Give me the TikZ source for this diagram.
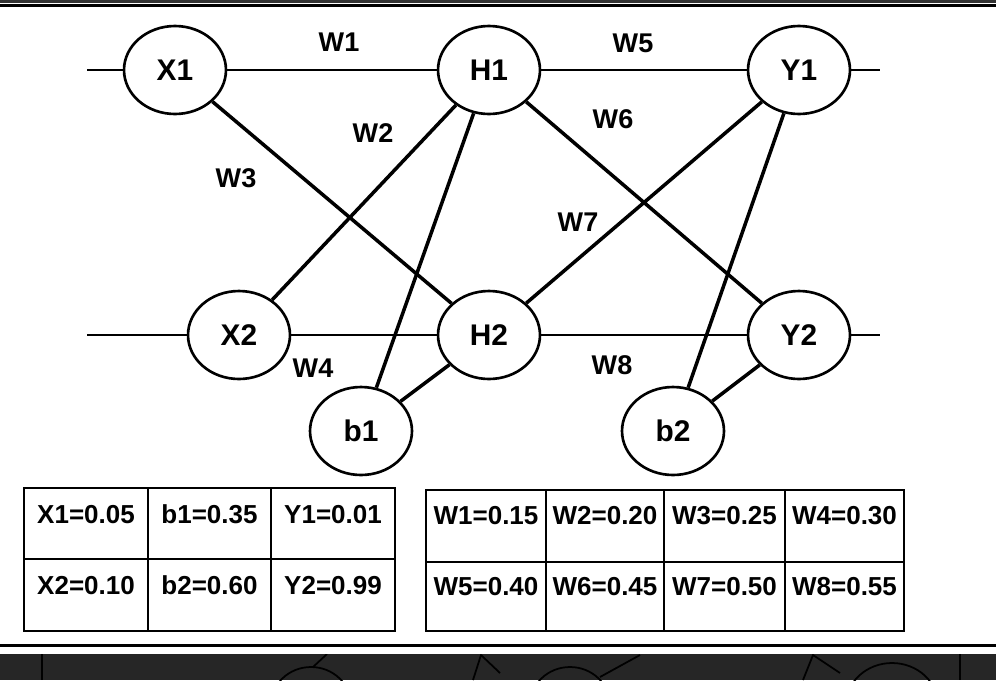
\documentclass[tikz,border=0pt]{standalone}
\usepackage{fontspec}
\setmainfont{Liberation Sans}
\usetikzlibrary{positioning,calc,shapes.geometric}
\definecolor{StripGray}{RGB}{38,38,38}
\definecolor{TopGray}{RGB}{50,50,50}
\tikzset{
	unit/.style={ellipse,draw=black,fill=white,line width=1.5pt,inner sep=0pt,
		minimum width=2.04cm,minimum height=1.76cm,font=\bfseries\fontsize{17}{20}\selectfont},
	wire/.style={draw=black,line width=2pt},
	flat/.style={draw=black,line width=1.6pt},
	wlab/.style={font=\bfseries\fontsize{15.4}{18}\selectfont,inner sep=0pt},
	cell/.style={font=\bfseries\fontsize{14.8}{18}\selectfont,inner sep=0pt,anchor=base},
	grid/.style={draw=black,line width=1.1pt},
}

\begin{document}
\begin{tikzpicture}[x=0.02cm,y=-0.02cm]
	\useasboundingbox (0,0) rectangle (996,680);
	\fill[TopGray] (0,0) rectangle (996,3);
	\fill[black] (0,4) rectangle (996,7);
	\node[unit] (X1) at (175,70) {X1};
	\node[unit] (H1) at (489,70) {H1};
	\node[unit] (Y1) at (799,70) {Y1};
	\node[unit] (X2) at (239,335) {X2};
	\node[unit] (H2) at (489,335) {H2};
	\node[unit] (Y2) at (799,335) {Y2};
	\node[unit] (b1) at (361,431) {b1};
	\node[unit] (b2) at (673,431) {b2};
	\coordinate (in1) at (87,70);
	\coordinate (in2) at (87,335);
	\coordinate (out1) at (880,70);
	\coordinate (out2) at (880,335);
	\draw[flat] (in1)--(X1)--(H1)--(Y1)--(out1);
	\draw[flat] (in2)--(X2)--(H2)--(Y2)--(out2);
	\draw[wire] (X1)--(H2) (X2)--(H1) (H1)--(Y2) (H2)--(Y1);
	\draw[wire] (H1)--(b1)--(H2) (Y1)--(b2)--(Y2);
	\foreach \n/\x/\y in {W1/339/42,W2/373/133,W3/236/178,W4/313/368,W5/633/43,W6/613/119,W7/578/222,W8/612/365}
	\node[wlab] (\n) at (\x,\y) {\n};
	\draw[grid] (24,488) rectangle (395,631);
	\draw[grid] (24,559)--(395,559) (148,488)--(148,631) (271,488)--(271,631);
	\foreach \t/\u/\x [count=\i] in {X1=0.05/X2=0.10/86,b1=0.35/b2=0.60/209.5,Y1=0.01/Y2=0.99/333}{
		\node[cell] (ta\i) at (\x,523) {\t};
		\node[cell] (tb\i) at (\x,594) {\u};
	}
	\draw[grid] (426,490) rectangle (904,631);
	\draw[grid] (426,562)--(904,562) (546,490)--(546,631) (664,490)--(664,631) (785,490)--(785,631);
	\foreach \t/\u/\x [count=\i] in {W1=0.15/W5=0.40/486,W2=0.20/W6=0.45/605,W3=0.25/W7=0.50/724.5,W4=0.30/W8=0.55/844.5}{
		\node[cell] (tc\i) at (\x,524) {\t};
		\node[cell] (td\i) at (\x,595) {\u};
	}
	\fill[black] (0,644) rectangle (996,647);
	\fill[StripGray] (0,654) rectangle (996,680);
	\begin{scope}
		\clip (0,654) rectangle (996,680);
		\draw[black,line width=1.2pt] (42,654)--(42,680) (960,654)--(960,680);
		\draw[black,line width=1pt] (311,705) ellipse [x radius=0.8cm,y radius=0.76cm];
		\draw[black,line width=1pt] (570,705) ellipse [x radius=0.8cm,y radius=0.76cm];
		\draw[black,line width=1pt] (892,705) ellipse [x radius=0.92cm,y radius=0.84cm];
		\draw[black,line width=1pt] (313,667)--(327,654) (473,680)--(481,655)--(500,673);
		\draw[black,line width=1pt] (600,677)--(640,655) (803,680)--(813,655)--(840,673);
	\end{scope}
\end{tikzpicture}
\end{document}
